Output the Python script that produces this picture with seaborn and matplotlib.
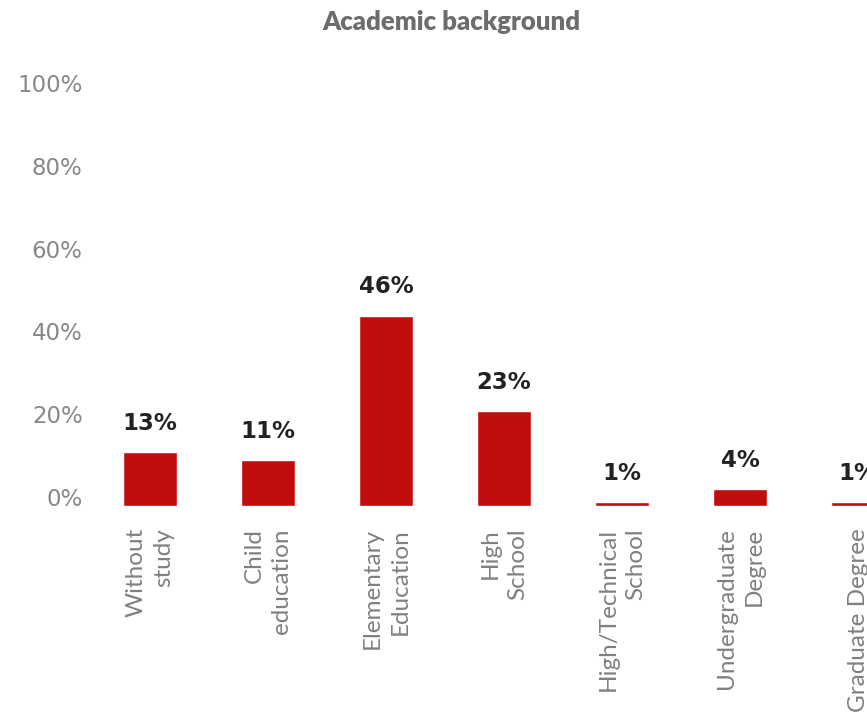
import matplotlib
matplotlib.use("Agg")
import matplotlib.pyplot as plt
import seaborn as sns
import pandas as pd

# Data
categories = [
    "Without\nstudy",
    "Child\neducation",
    "Elementary\nEducation",
    "High\nSchool",
    "High/Technical\nSchool",
    "Undergraduate\nDegree",
    "Graduate Degree",
]
values = [13, 11, 46, 23, 1, 4, 1]
y_ticks = [0, 20, 40, 60, 80, 100]

df = pd.DataFrame({"category": categories, "value": values})

sns.set_theme(style="white")
plt.rcParams["font.family"] = ["Lato", "DejaVu Sans"]

W, H = 867, 712
fig = plt.figure(figsize=(W / 100, H / 100), dpi=100)

# axes placed in pixel terms; right edge runs past the figure like the reference
left, right = 91, 917
bottom, top = 506, 92
ax = fig.add_axes([left / W, 1 - bottom / H, (right - left) / W, (bottom - top) / H])

sns.barplot(data=df, x="category", y="value", color="#C00D0D",
            width=0.45, saturation=1, ax=ax)

ax.set_xlim(-0.5, len(categories) - 0.5)
ax.set_ylim(0, 100)
ax.set_xlabel("")
ax.set_ylabel("")
sns.despine(ax=ax, left=True, bottom=True)

ax.set_yticks(y_ticks)
ax.set_yticklabels([f"{t}%" for t in y_ticks], fontsize=16.5, color="#888888",
                   family="DejaVu Sans", va="baseline")
ax.tick_params(axis="y", length=0, pad=6)

ax.set_xticks(range(len(categories)))
ax.set_xticklabels(categories, rotation=90, fontsize=17.5, color="#808080",
                   ha="center", va="top", multialignment="right",
                   linespacing=1.4)
ax.tick_params(axis="x", length=0, pad=16)

for i, v in enumerate(values):
    ax.annotate(f"{v}%", xy=(i, v), xytext=(0, 16), textcoords="offset points",
                ha="center", va="baseline", fontsize=16.5, fontweight="bold",
                family="DejaVu Sans", color="#222222")

fig.text(451 / W, 1 - 22 / H, "Academic background", ha="center", va="center",
         fontsize=18.5, fontweight="heavy", color="#6d6d6d")

fig.savefig("out.png", dpi=100)
